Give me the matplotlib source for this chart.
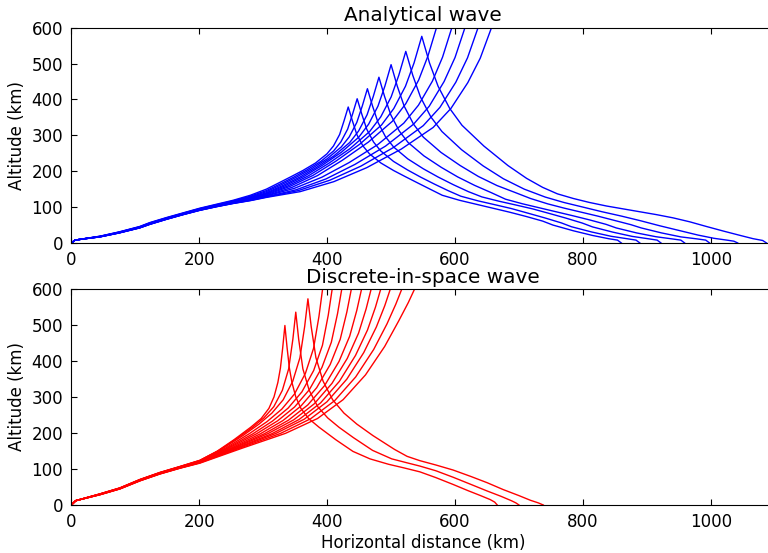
import matplotlib
matplotlib.use("Agg")
import matplotlib.pyplot as plt

# ---------------- top panel: analytical wave, 12 rays ----------------
# lower band, shared x positions (km) and altitude of every ray there
top_band_x = [0, 6, 20, 45, 75, 107, 123, 149, 175, 201, 227, 253, 280, 305]
top_band_z = [
    [0, 8, 12, 19, 31, 46, 57, 71, 84, 97, 108, 119, 133, 150],
    [0, 8, 11.9, 18.7, 30.5, 45.3, 56.1, 70.1, 83.1, 96, 106.8, 117.4, 130.4, 146],
    [0, 8, 11.8, 18.4, 30.1, 44.8, 55.5, 69.5, 82.5, 95.2, 105.9, 116.3, 128.4, 143],
    [0, 8, 11.8, 18.1, 29.7, 44.3, 54.8, 68.8, 81.8, 94.4, 105, 115.1, 126.5, 140],
    [0, 8, 11.7, 18, 29.4, 43.9, 54.4, 68.4, 81.4, 93.9, 104.3, 114.3, 125.2, 138],
    [0, 8, 11.7, 17.8, 29.2, 43.6, 54, 68, 81, 93.3, 103.7, 113.5, 123.9, 136],
    [0, 8, 11.7, 17.6, 28.9, 43.2, 53.5, 67.5, 80.5, 92.8, 103.1, 112.7, 122.6, 134],
    [0, 8, 11.6, 17.4, 28.7, 42.9, 53.1, 67.1, 80.1, 92.3, 102.5, 112, 121.3, 132],
    [0, 8, 11.6, 17.3, 28.5, 42.7, 52.9, 66.9, 79.9, 92, 102.2, 111.6, 120.6, 131],
    [0, 8, 11.5, 17.2, 28.3, 42.3, 52.4, 66.4, 79.4, 91.5, 101.6, 110.8, 119.3, 129],
    [0, 8, 11.5, 17.1, 28.1, 42.2, 52.2, 66.2, 79.2, 91.3, 101.3, 110.4, 118.6, 128],
    [0, 8, 11.5, 17, 28, 42, 52, 66, 79, 91, 101, 110, 118, 127],
]
# rising branch up to the cusp (rays 1-7) or to the top of the frame
top_up_x = [
    [324.2, 343.4, 362.1, 381.8, 399.8, 410, 419.6, 426.6, 433],
    [326.3, 347.6, 368.3, 390.2, 410.2, 421.4, 432.1, 439.9, 447],
    [328.7, 352.4, 375.5, 399.8, 422.1, 434.6, 446.4, 455.1, 463],
    [331.4, 357.8, 383.5, 410.6, 435.4, 449.3, 462.5, 472.2, 481],
    [334.3, 363.5, 392, 422, 449.5, 464.9, 479.5, 490.3, 500],
    [337.7, 370.4, 402.2, 435.8, 466.5, 483.8, 500.1, 512.1, 523],
    [341.5, 377.9, 413.4, 450.8, 485.1, 504.3, 522.5, 535.9, 548],
    [344.9, 384.8, 423.6, 464.6, 502.1, 523.1, 543.1, 557.7, 571],
    [348.5, 392, 434.3, 479, 519.9, 542.8, 564.6, 580.5, 595],
    [351.6, 398.2, 443.5, 491.3, 535.1, 559.6, 582.9, 600, 615.5],
    [354.7, 404.3, 452.6, 503.6, 550.3, 576.4, 601.2, 619.5, 636],
    [357.8, 410.6, 462, 516.2, 565.8, 593.6, 620, 639.4, 657],
]
top_up_z = [
    [167.2, 184.6, 202, 222.8, 248.5, 270.5, 302.5, 341.2, 379],
    [164.2, 183.4, 203.6, 227.4, 256.6, 281.4, 317.3, 359.8, 402],
    [162.5, 183.8, 206.7, 234.3, 267.6, 295.7, 335.9, 382.4, 430],
    [160.6, 184.1, 210.8, 242.7, 280.1, 312.3, 357.4, 408.5, 462],
    [159.5, 185.4, 215.9, 252.5, 294.9, 331.1, 381.4, 437, 497],
    [158.3, 186.9, 221.6, 263, 310.7, 351.3, 407, 467.5, 534],
    [157.4, 188.4, 227.7, 275, 328.9, 374.9, 436.8, 501.7, 576],
    [154.9, 187.7, 230.3, 281.3, 339.3, 388.5, 454, 521.4, 600],
    [152.1, 183.5, 224, 274, 334, 384, 451, 518, 600],
    [148.3, 178.5, 219, 270, 331, 381, 450, 517, 600],
    [145.9, 175, 214, 266, 327, 378, 448, 516, 600],
    [143.1, 171, 210, 262, 322, 375, 447, 515, 600],
]
# falling branch after the cusp, down to the ground (rays 1-7)
top_down_x = [
    [439.4, 446.4, 456, 466.2, 484.2, 503.9, 522.6, 541.8, 561, 580, 607, 633, 659, 685, 711, 737, 753, 785, 815, 840, 854, 860],
    [454.1, 461.9, 472.6, 483.8, 503.8, 525.7, 546.4, 567.7, 589, 609, 636, 662, 688, 714, 740, 766, 782, 814, 844, 869, 883, 889],
    [470.9, 479.6, 491.4, 503.9, 526.2, 550.5, 573.6, 597.3, 621, 642, 669, 695, 721, 747, 773, 799, 815, 847, 877, 902, 916, 922],
    [489.8, 499.5, 512.7, 526.6, 551.4, 578.5, 604.2, 630.6, 657, 679, 706, 732, 758, 784, 810, 836, 852, 884, 914, 939, 953, 959],
    [509.7, 520.5, 535.1, 550.5, 578, 608, 636.5, 665.7, 695, 718, 745, 771, 797, 823, 849, 875, 891, 923, 953, 978, 992, 998],
    [533.9, 545.9, 562.2, 579.5, 610.2, 643.8, 675.6, 708.3, 741, 770, 800, 830, 860, 890, 920, 950, 980, 1005, 1025, 1036, 1042],
    [560.1, 573.5, 591.7, 610.9, 645.2, 682.6, 712, 737, 760, 785, 810, 837, 863, 889, 915, 941, 967, 993, 1020, 1046, 1066, 1081, 1087],
]
top_down_z = [
    [341.2, 302.5, 270.5, 248.5, 222.8, 202, 184.6, 167.2, 150, 133, 119, 108, 97, 86, 74, 61, 50, 34, 21, 12, 8, 0],
    [359.8, 317.3, 281.4, 256.6, 227.4, 203.6, 183.4, 164.2, 146, 130.4, 117.4, 106.8, 96, 83.1, 70.1, 56.1, 45.3, 30.5, 18.7, 11.9, 8, 0],
    [382.4, 335.9, 295.7, 267.6, 234.3, 206.7, 183.8, 162.5, 143, 128.4, 116.3, 105.9, 95.2, 82.5, 69.5, 55.5, 44.8, 30.1, 18.4, 11.8, 8, 0],
    [408.5, 357.4, 312.3, 280.1, 242.7, 210.8, 184.1, 160.6, 140, 122, 109, 98, 87, 76, 64.5, 52, 42, 28, 17.5, 11.5, 8, 0],
    [437, 381.4, 331.1, 294.9, 252.5, 215.9, 185.4, 160, 140, 124, 109, 97, 86, 75, 63, 51, 42, 28, 17, 11.5, 8, 0],
    [467.5, 407, 351.3, 310.7, 260, 215, 179, 150, 128, 113, 100, 87, 75, 62, 48, 35, 22, 13, 8, 5, 0],
    [501.7, 436.8, 374.9, 328, 270, 216, 180, 155, 137, 124, 113, 103, 95, 87, 79, 70, 59, 46, 33, 21, 12, 7, 0],
]

# ---------------- bottom panel: discrete-in-space wave, 13 rays ----------------
bot_band_x = [0, 7, 45, 76, 107.5, 138.7, 170, 201]
bot_band_z = [
    [0, 12, 31, 47.5, 71, 90.5, 107, 124],
    [0, 12, 30.8, 47.3, 70.7, 90.1, 106.6, 123.5],
    [0, 12, 30.6, 47, 70.3, 89.7, 106.2, 123],
    [0, 12, 30.4, 46.8, 70, 89.4, 105.8, 122],
    [0, 12, 30.2, 46.5, 69.7, 89, 105.3, 121.5],
    [0, 12, 30, 46.3, 69.3, 88.6, 104.9, 121],
    [0, 12, 29.8, 46, 69, 88.3, 104.5, 120],
    [0, 12, 29.5, 45.8, 68.7, 87.9, 104.1, 119.5],
    [0, 12, 29.3, 45.5, 68.3, 87.5, 103.7, 119],
    [0, 12, 29.1, 45.3, 68, 87.1, 103.3, 118],
    [0, 12, 28.9, 45, 67.7, 86.8, 102.8, 117.5],
    [0, 12, 28.7, 44.8, 67.3, 86.4, 102.4, 117],
    [0, 12, 28.5, 44.5, 67, 86, 102, 116],
]
bot_up_x = [
    [227.6, 254.2, 280.8, 297, 309, 317, 323, 327, 330.5, 334],
    [230.9, 260.9, 283.2, 301.1, 316.7, 330, 339.9, 346.5, 351],
    [234.6, 268.4, 293.6, 313.7, 331.3, 346.3, 357.5, 364.9, 370],
    [239.2, 277.6, 306.2, 329.1, 349, 366.1, 378.8, 387.2, 393],
    [242.2, 283.6, 314.4, 339.1, 360.6, 379, 392.7, 401.8, 408],
    [245.2, 289.6, 322.7, 349.1, 372.2, 391.9, 406.6, 416.3, 423],
    [248.2, 295.6, 330.9, 359.1, 383.7, 404.8, 420.5, 430.9, 438],
    [251.3, 302, 339.6, 369.8, 396.1, 418.6, 435.3, 446.4, 454],
    [254.3, 307.9, 347.9, 379.8, 407.6, 431.5, 449.2, 461, 469],
    [257.3, 313.9, 356.1, 389.8, 419.2, 444.4, 463.1, 475.5, 484],
    [260.3, 319.9, 364.3, 399.8, 430.8, 457.3, 477, 490.1, 499],
    [263.9, 327.1, 374.2, 411.8, 444.6, 472.8, 493.6, 507.5, 517],
    [268, 335, 385, 425, 460, 490, 512, 527, 537],
]
bot_up_z = [
    [148.7, 180.8, 216, 240, 268, 300, 340, 380, 435, 498],
    [151.5, 186.9, 215.3, 241.6, 272.9, 318.1, 377.8, 460.5, 535],
    [154.2, 192.6, 224.5, 255, 291.8, 343.5, 408.6, 495.2, 572],
    [155.9, 197, 231.5, 265.9, 307.9, 365.3, 434.6, 522.6, 600],
    [156.4, 197.1, 232.5, 268.9, 313.9, 373.2, 443.1, 526.8, 600],
    [156.9, 197.6, 233.6, 271.9, 319.8, 381.6, 451.5, 531, 600],
    [156.7, 197.5, 234.2, 274.6, 325.4, 389.8, 459.8, 535.7, 600],
    [157, 197.8, 235.3, 277.6, 331.4, 398.2, 468.3, 539.9, 600],
    [157.5, 198.4, 236.4, 280.6, 337.4, 406.6, 476.9, 544.2, 600],
    [157.5, 198, 237.1, 283.3, 343.1, 414.9, 485.3, 548.4, 600],
    [157.8, 198.6, 238.1, 286.4, 349.1, 422.9, 493.9, 552.7, 600],
    [158.1, 198.6, 239.2, 289.4, 355.1, 431.4, 502.4, 557.5, 600],
    [158.1, 198.8, 239.9, 292.2, 360.9, 439.8, 510.9, 561.8, 600],
]
bot_down_x = [
    [337.5, 341, 345, 351, 359, 371, 387.2, 413.8, 440.4, 467, 496, 520, 545, 570, 597, 620, 640, 655, 662, 666],
    [355.5, 362.1, 372, 385.3, 400.9, 418.8, 441.1, 471.1, 501, 525, 545, 570, 597, 625, 650, 672, 688, 695, 700],
    [375.1, 382.5, 393.7, 408.7, 426.3, 446.4, 471.6, 505.4, 525, 545, 570, 597, 625, 650, 675, 700, 718, 730, 738],
]
bot_down_z = [
    [435, 380, 340, 300, 268, 240, 216, 180.8, 148.7, 128, 113, 103, 92, 76, 57, 40, 26, 15, 8, 0],
    [460.5, 377.8, 318.1, 272.9, 241.6, 215.3, 186.9, 151.5, 128, 117, 108, 95, 77, 57, 39, 24, 12, 6, 0],
    [495.2, 408.6, 343.5, 291.8, 255, 224.5, 192.6, 154.2, 135, 123, 111, 97, 79, 62, 43, 26, 13, 6, 0],
]

plt.rcParams.update({
    "font.family": "DejaVu Sans",
    "font.size": 12,
    "xtick.direction": "in",
    "ytick.direction": "in",
    "xtick.top": True,
    "ytick.right": True,
    "xtick.major.size": 4,
    "ytick.major.size": 4,
    "xtick.major.pad": 6,
    "ytick.major.pad": 6,
})

fig = plt.figure(figsize=(7.68, 5.53), dpi=100)
ax_top = fig.add_axes([0.0928, 0.5606, 0.9161, 0.3893])
ax_bot = fig.add_axes([0.0928, 0.0868, 0.9161, 0.3911])


def draw_rays(ax, band_x, band_z, up_x, up_z, down_x, down_z, color):
    for i in range(len(band_z)):
        xs = band_x + up_x[i]
        zs = band_z[i] + up_z[i]
        if i < len(down_x):
            xs = xs + down_x[i]
            zs = zs + down_z[i]
        ax.plot(xs, zs, color=color, lw=1.0)


draw_rays(ax_top, top_band_x, top_band_z, top_up_x, top_up_z,
          top_down_x, top_down_z, "b")
draw_rays(ax_bot, bot_band_x, bot_band_z, bot_up_x, bot_up_z,
          bot_down_x, bot_down_z, "r")

for ax in (ax_top, ax_bot):
    ax.set_xlim(0, 1100)
    ax.set_ylim(0, 600)
    ax.set_xticks([0, 200, 400, 600, 800, 1000])
    ax.set_yticks([0, 100, 200, 300, 400, 500, 600])
    ax.set_ylabel("Altitude (km)")

ax_top.set_title("Analytical wave", fontsize=14.4, pad=5)
ax_bot.set_title("Discrete-in-space wave", fontsize=14.4, pad=4)
ax_bot.set_xlabel("Horizontal distance (km)", labelpad=2)

fig.savefig("out.png", dpi=100)
